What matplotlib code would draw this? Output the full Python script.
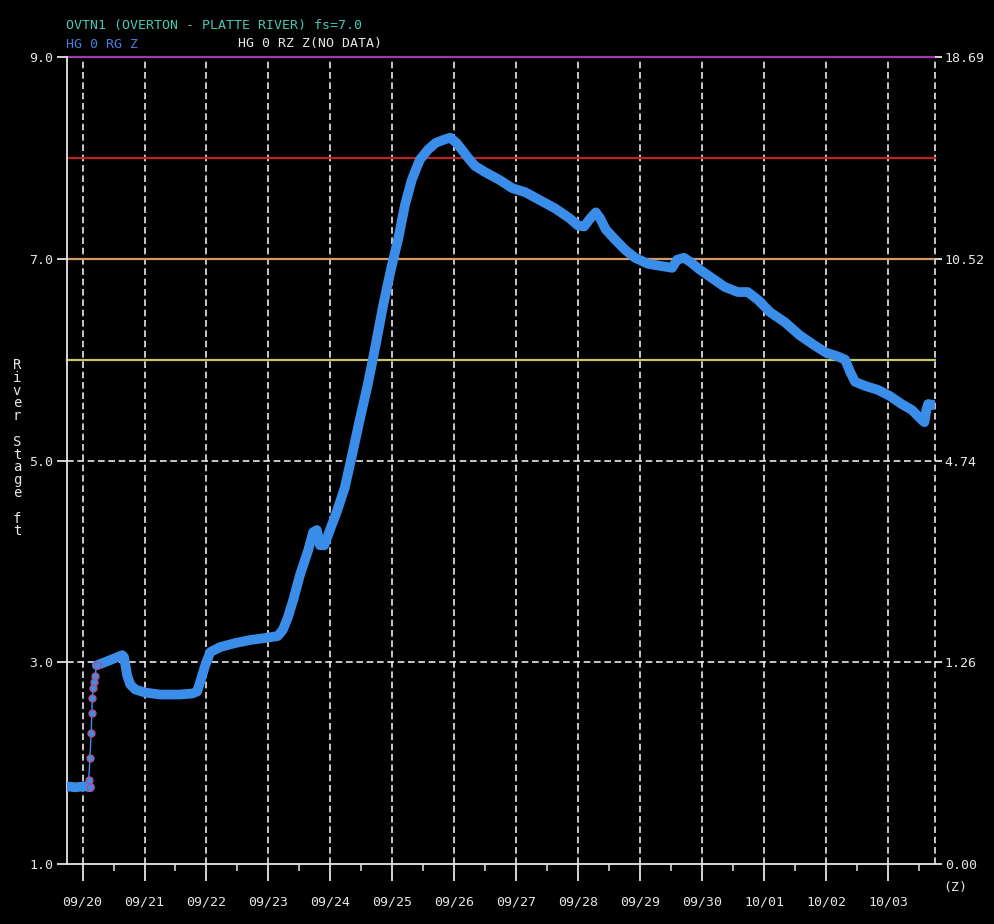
import numpy as np
import matplotlib
matplotlib.use("Agg")
import matplotlib.pyplot as plt
from matplotlib.ticker import FixedLocator

# ---------------------------------------------------------------
# data: days since 09/20 00Z, river stage (ft)
# ---------------------------------------------------------------
# flat stretch before the first rise
pre_day = [-0.25, -0.12, 0.04, 0.12]
pre_stage = [1.77, 1.76, 1.77, 1.76]

# sparse readings on the first sharp rise (09/20)
rise_day = [0.12, 0.10, 0.12, 0.14, 0.15, 0.16, 0.17, 0.19, 0.20, 0.23]
rise_stage = [1.76, 1.83, 2.05, 2.30, 2.50, 2.65, 2.74, 2.80, 2.86, 2.97]

# rest of the hydrograph
day = [0.23, 0.36, 0.52, 0.64, 0.67, 0.72, 0.77, 0.85, 1.01, 1.25, 1.57,
       1.77, 1.85, 1.91, 1.98, 2.06, 2.22, 2.46, 2.70, 2.94, 3.15, 3.23,
       3.31, 3.40, 3.51, 3.64, 3.72, 3.78, 3.83, 3.90, 3.99, 4.10, 4.23,
       4.35, 4.47, 4.60, 4.73, 4.85, 4.98, 5.09, 5.20, 5.31, 5.44, 5.57,
       5.70, 5.83, 5.93, 6.03, 6.12, 6.22, 6.33, 6.49, 6.73, 6.93, 7.14,
       7.38, 7.62, 7.86, 7.99, 8.09, 8.19, 8.28, 8.35, 8.44, 8.59, 8.75,
       8.91, 9.12, 9.31, 9.51, 9.59, 9.70, 9.80, 9.96, 10.15, 10.36,
       10.57, 10.73, 10.90, 11.09, 11.33, 11.57, 11.81, 11.99, 12.19,
       12.30, 12.38, 12.46, 12.62, 12.83, 13.02, 13.21, 13.38, 13.54,
       13.58, 13.61, 13.64, 13.73]
stage = [2.97, 3.00, 3.04, 3.07, 3.05, 2.87, 2.78, 2.73, 2.70, 2.68, 2.68,
         2.69, 2.71, 2.83, 2.97, 3.10, 3.15, 3.19, 3.22, 3.24, 3.26, 3.32,
         3.44, 3.62, 3.87, 4.11, 4.29, 4.31, 4.16, 4.16, 4.31, 4.49, 4.73,
         5.06, 5.40, 5.75, 6.15, 6.54, 6.91, 7.19, 7.53, 7.78, 7.98, 8.08,
         8.15, 8.18, 8.20, 8.15, 8.08, 8.00, 7.92, 7.86, 7.78, 7.70, 7.66,
         7.58, 7.50, 7.40, 7.33, 7.32, 7.40, 7.46, 7.40, 7.29, 7.19, 7.09,
         7.01, 6.95, 6.93, 6.91, 6.99, 7.01, 6.97, 6.89, 6.81, 6.72,
         6.67, 6.67, 6.59, 6.47, 6.37, 6.24, 6.14, 6.07, 6.03,
         6.00, 5.88, 5.78, 5.74, 5.70, 5.64, 5.56, 5.50, 5.40,
         5.38, 5.50, 5.56, 5.55]

date_labels = ["09/20", "09/21", "09/22", "09/23", "09/24", "09/25", "09/26",
               "09/27", "09/28", "09/29", "09/30", "10/01", "10/02", "10/03"]
stage_ticks = [1.0, 3.0, 5.0, 7.0, 9.0]
flow_labels = ["0.00", "1.26", "4.74", "10.52", "18.69"]

# threshold lines: stage, colour
thresholds = [(9.0, "#a535b0"), (8.0, "#b82424"), (7.0, "#d29a66"), (6.0, "#c8c46a")]

x_min, x_max = -0.25, 13.75
mono = "DejaVu Sans Mono"
txt = "#e6e6e6"
blue = "#3a8eea"

# ---------------------------------------------------------------
# figure
# ---------------------------------------------------------------
fig = plt.figure(figsize=(9.95, 9.24), dpi=100, facecolor="black")
ax = fig.add_axes([67 / 995, 1 - 864 / 924, (935 - 67) / 995, (864 - 57) / 924])
ax.set_facecolor("black")
ax.set_xlim(x_min, x_max)
ax.set_ylim(1.0, 9.0)

# grid
dash = dict(color="#e8e8e8", lw=1.2, dashes=(4.0, 2.2), zorder=1, clip_on=False)
for d in range(len(date_labels)):
    ax.axvline(d, **dash)
ax.axvline(x_max, **dash)
for s in [3.0, 5.0, 7.0]:
    ax.axhline(s, **dash)

for s, c in thresholds:
    ax.axhline(s, color=c, lw=1.6, zorder=2, clip_on=False)

# hydrograph
thick = dict(color=blue, lw=7.0, solid_capstyle="round",
             solid_joinstyle="round", zorder=4)
ax.plot(pre_day, pre_stage, **thick)
ax.plot(day, stage, **thick)
ax.plot(rise_day, rise_stage, color=blue, lw=1.0, marker="o", ms=5,
        mfc=blue, mec="#b0508e", mew=1.0, zorder=5)

# spines
for side in ["top", "right"]:
    ax.spines[side].set_visible(False)
for side in ["left", "bottom"]:
    ax.spines[side].set_color(txt)
    ax.spines[side].set_linewidth(1.3)

# x ticks
ax.xaxis.set_major_locator(FixedLocator(range(len(date_labels))))
ax.set_xticklabels(date_labels)
ax.xaxis.set_minor_locator(FixedLocator(np.arange(0.5, x_max, 1.0)))
ax.tick_params(axis="x", which="major", direction="out", length=12, width=1.3,
               color=txt, labelcolor=txt, pad=11, labelsize=9.5)
ax.tick_params(axis="x", which="minor", direction="out", length=5, width=1.1,
               color=txt)
for lab in ax.get_xticklabels():
    lab.set_family(mono)

# left y ticks
ax.yaxis.set_major_locator(FixedLocator(stage_ticks))
ax.set_yticklabels([f"{v:.1f}" for v in stage_ticks])
ax.tick_params(axis="y", which="major", direction="out", length=7, width=1.3,
               color=txt, labelcolor=txt, pad=3, labelsize=9.5)
for lab in ax.get_yticklabels():
    lab.set_family(mono)

# right y ticks (flow)
ax2 = ax.twinx()
ax2.set_ylim(1.0, 9.0)
for side in ["top", "right", "left", "bottom"]:
    ax2.spines[side].set_visible(False)
ax2.yaxis.set_major_locator(FixedLocator(stage_ticks))
ax2.set_yticklabels(flow_labels)
ax2.tick_params(axis="y", which="major", direction="out", length=5, width=1.3,
                color=txt, labelcolor=txt, pad=2, labelsize=9.5)
for lab in ax2.get_yticklabels():
    lab.set_family(mono)

# titles
fig.text(66 / 995, 1 - 25 / 924, "OVTN1 (OVERTON - PLATTE RIVER) fs=7.0",
         color="#45c8b4", family=mono, fontsize=9.5, va="center")
fig.text(66 / 995, 1 - 44 / 924, "HG 0 RG Z", color="#4a7fe0",
         family=mono, fontsize=9.5, va="center")
fig.text(238 / 995, 1 - 44 / 924, "HG 0 RZ Z(NO DATA)", color=txt,
         family=mono, fontsize=9.5, va="center")
fig.text(943 / 995, 1 - 887 / 924, "(Z)", color=txt, family=mono,
         fontsize=9.5, va="center")

# stacked y label
for i, ch in enumerate("River Stage ft"):
    fig.text(17 / 995, 1 - (365 + i * 12.8) / 924, ch, color=txt,
             family=mono, fontsize=10, ha="center", va="center")

fig.savefig("out.png", dpi=100, facecolor="black")
